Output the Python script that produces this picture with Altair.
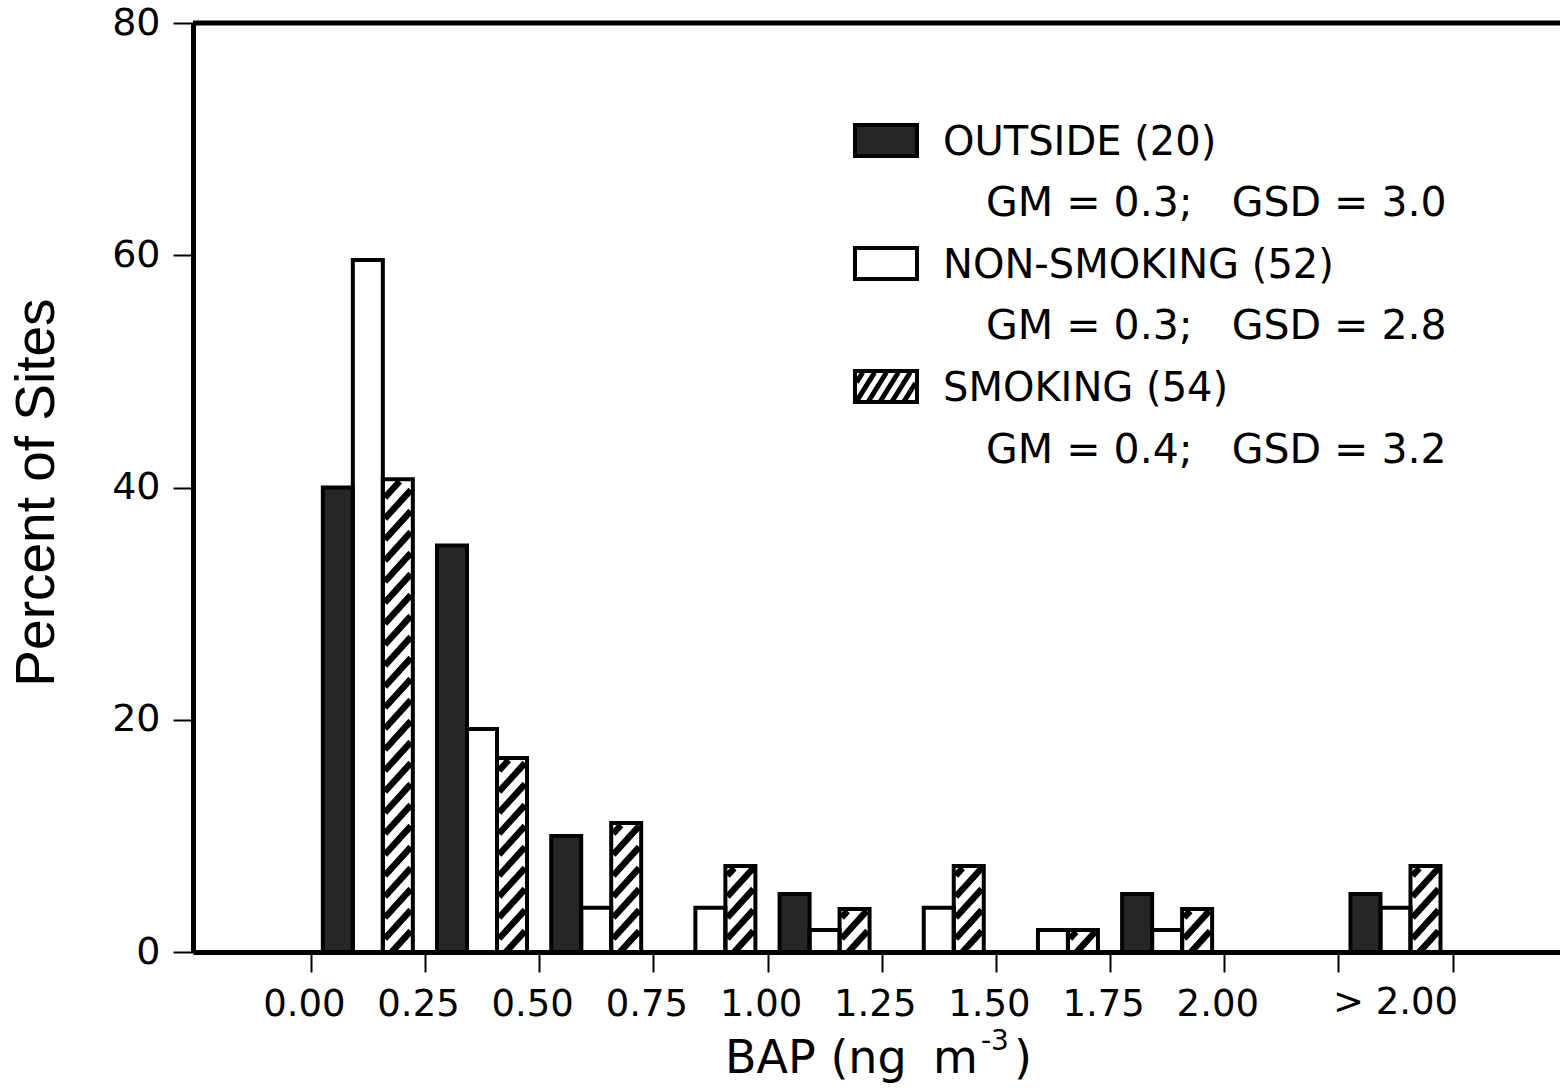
import altair as alt
import pandas as pd

# ---------------- data ----------------
bin_lo = [0.00, 0.25, 0.50, 0.75, 1.00, 1.25, 1.50, 1.75, 2.00, 2.25]
series = ["OUTSIDE", "NON-SMOKING", "SMOKING"]
outside_pct = [40.0, 35.0, 10.0, 0.0, 5.0, 0.0, 0.0, 5.0, 0.0, 5.0]
nonsmoking_pct = [59.6, 19.2, 3.8, 3.8, 1.9, 3.8, 1.9, 1.9, 0.0, 3.8]
smoking_pct = [40.7, 16.7, 11.1, 7.4, 3.7, 7.4, 1.9, 3.7, 0.0, 7.4]
legend_names = ["OUTSIDE (20)", "NON-SMOKING (52)", "SMOKING (54)"]
legend_stats = ["GM = 0.3;\u00a0\u00a0 GSD = 3.0", "GM = 0.3;\u00a0\u00a0 GSD = 2.8", "GM = 0.4;\u00a0\u00a0 GSD = 3.2"]
x_tick_values = [0.0, 0.25, 0.5, 0.75, 1.0, 1.25, 1.5, 1.75, 2.0, 2.25, 2.5]
y_tick_values = [0, 20, 40, 60, 80]
over_label = "> 2.00"
y_title = "Percent of Sites"
x_title_main = "BAP (ng"
x_title_unit = "m"
x_title_sup = "-3"
x_title_close = ")"

# ---------------- layout ----------------
LEFT, TOP = 193, 23
PW, PH = 1367, 929
XD0, XD1 = -0.258, 2.735
YMAX = 80
SX = PW / (XD1 - XD0)
SY = PH / YMAX
BAR_OFF, BAR_W = 12, 30  # px
fills = {"OUTSIDE": "#262626", "NON-SMOKING": "white", "SMOKING": "white"}


def ux(abs_px):
    return XD0 + (abs_px - LEFT) / SX


def uy(abs_py):
    return (PH - (abs_py - TOP)) / SY


def hatch(W, H, m, vstep, inset):
    segs = []
    x_min, x_max = inset, W - inset
    y_min, y_max = 0.0, H - inset
    c = y_min - m * x_max
    while c < y_max:
        xs = max(x_min, (y_min - c) / m)
        xe = min(x_max, (y_max - c) / m)
        if xe - xs > 0.5:
            segs.append((xs, m * xs + c, xe, m * xe + c))
        c += vstep
    return segs


values = [outside_pct, nonsmoking_pct, smoking_pct]
bar_rows, hatch_rows = [], []
for i, lo in enumerate(bin_lo):
    for j, s in enumerate(series):
        p = values[j][i]
        if p <= 0:
            continue
        x0 = lo + (BAR_OFF + j * BAR_W) / SX
        x1 = x0 + BAR_W / SX
        bar_rows.append({"series": s, "x0": x0, "x1": x1, "y0": 0.0, "y1": p})
        if s == "SMOKING":
            for xs, ys, xe, ye in hatch(BAR_W, p * SY, 1.1, 21, 2):
                hatch_rows.append({"hx": x0 + xs / SX, "hy": ys / SY,
                                   "hx2": x0 + xe / SX, "hy2": ye / SY, "w": 6.5})
bars = pd.DataFrame(bar_rows)

# legend (positions in absolute pixels converted to data units)
title_base = [155, 278, 401]
stat_base = [216, 339, 463]
sw_l, sw_r = 855, 917
leg_rows, leg_text, leg_stat = [], [], []
for k, s in enumerate(series):
    b = title_base[k] + 1
    t = b - 31
    leg_rows.append({"series": s, "x0": ux(sw_l), "x1": ux(sw_r), "y0": uy(b), "y1": uy(t)})
    leg_text.append({"text": legend_names[k], "tx": ux(943), "ty": uy(title_base[k])})
    leg_stat.append({"text": legend_stats[k], "tx": ux(986), "ty": uy(stat_base[k])})
    if s == "SMOKING":
        for xs, ys, xe, ye in hatch(sw_r - sw_l, 31, 1.6, 19, 1.5):
            hatch_rows.append({"hx": ux(sw_l + xs), "hy": uy(b - ys),
                               "hx2": ux(sw_l + xe), "hy2": uy(b - ye), "w": 5})
legend_df = pd.DataFrame(leg_rows)
legend_text_df = pd.DataFrame(leg_text)
legend_stat_df = pd.DataFrame(leg_stat)
hatch_df = pd.DataFrame(hatch_rows)
all_rects = pd.concat([bars, legend_df], ignore_index=True)

xscale = alt.Scale(domain=[XD0, XD1], nice=False, zero=False)
yscale = alt.Scale(domain=[0, YMAX], nice=False, zero=False)
color = alt.Color("series:N", scale=alt.Scale(domain=series, range=[fills[s] for s in series]), legend=None)

x_axis = alt.Axis(values=x_tick_values,
                  labelExpr="datum.value > 2.1 ? '' : format(datum.value, '.2f')",
                  title=None, grid=False, tickSize=20, tickWidth=2, tickColor="black",
                  domainColor="black", domainWidth=5, labelFont="DejaVu Sans", labelFontSize=37,
                  labelColor="black", labelPadding=14, labelOffset=-7, labelOverlap=False, labelFlush=False)
y_axis = alt.Axis(values=y_tick_values, format="d", title=y_title, titleFont="Liberation Sans",
                  titleFontSize=55, titleFontWeight="normal", titleColor="black", titleAngle=270,
                  titleX=-140, titleY=469, titleAlign="center", titleBaseline="alphabetic",
                  grid=False, tickSize=20, tickWidth=2, tickColor="black", domainColor="black",
                  domainWidth=5, labelFont="DejaVu Sans", labelFontSize=38, labelColor="black",
                  labelPadding=13)


def X(field):
    return alt.X(field, scale=xscale, axis=x_axis)


def Y(field):
    return alt.Y(field, scale=yscale, axis=y_axis)


fill_layer = alt.Chart(all_rects).mark_rect(strokeWidth=0).encode(
    x=X("x0:Q"), x2="x1:Q", y=Y("y0:Q"), y2="y1:Q", color=color,
)

hatch_layer = alt.Chart(hatch_df).mark_rule(color="black", strokeCap="butt").encode(
    x=X("hx:Q"), x2="hx2:Q", y=Y("hy:Q"), y2="hy2:Q",
    strokeWidth=alt.StrokeWidth("w:Q", scale=None, legend=None),
)

outline_layer = alt.Chart(all_rects).mark_rect(fillOpacity=0, stroke="black", strokeWidth=4).encode(
    x=X("x0:Q"), x2="x1:Q", y=Y("y0:Q"), y2="y1:Q",
)

top_rule = alt.Chart(pd.DataFrame({"top": [YMAX]})).mark_rule(color="black", strokeWidth=5).encode(
    y=Y("top:Q"),
)

legend_text_layer = alt.Chart(legend_text_df).mark_text(
    font="DejaVu Sans", fontSize=40, align="left", baseline="alphabetic", color="black"
).encode(x=X("tx:Q"), y=Y("ty:Q"), text="text:N")

legend_stat_layer = alt.Chart(legend_stat_df).mark_text(
    font="DejaVu Sans", fontSize=41, align="left", baseline="alphabetic", color="black"
).encode(x=X("tx:Q"), y=Y("ty:Q"), text="text:N")

over_df = pd.DataFrame({"text": [over_label], "tx": [bin_lo[-1] + 0.125], "ty": [uy(1014)]})
over_layer = alt.Chart(over_df).mark_text(
    font="DejaVu Sans", fontSize=37, align="center", baseline="alphabetic", color="black"
).encode(x=X("tx:Q"), y=Y("ty:Q"), text="text:N")

xt_df = pd.DataFrame({
    "text": [x_title_main, x_title_unit, x_title_close],
    "tx": [ux(725), ux(933), ux(1014)],
    "ty": [uy(1073)] * 3,
})
xt_layer = alt.Chart(xt_df).mark_text(
    font="DejaVu Sans", fontSize=46, align="left", baseline="alphabetic", color="black"
).encode(x=X("tx:Q"), y=Y("ty:Q"), text="text:N")

sup_df = pd.DataFrame({"text": [x_title_sup], "tx": [ux(981)], "ty": [uy(1050)]})
sup_layer = alt.Chart(sup_df).mark_text(
    font="DejaVu Sans", fontSize=28, align="left", baseline="alphabetic", color="black"
).encode(x=X("tx:Q"), y=Y("ty:Q"), text="text:N")

chart = alt.layer(
    fill_layer, hatch_layer, outline_layer, top_rule,
    legend_text_layer, legend_stat_layer, over_layer, xt_layer, sup_layer,
).properties(
    width=PW, height=PH,
    autosize=alt.AutoSizeParams(type="none"),
    padding={"left": LEFT, "top": TOP, "right": 0, "bottom": 1089 - TOP - PH},
    background="white",
).configure_view(stroke=None)

chart.save("out.html", embed_options={"renderer": "svg", "actions": False})
